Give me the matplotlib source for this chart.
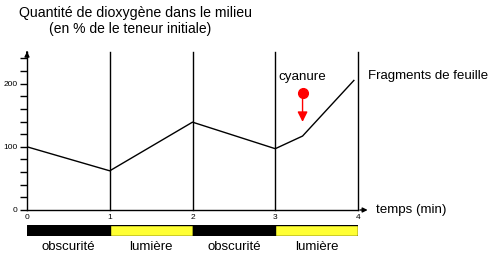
import matplotlib.pyplot as plt

plt.rcParams['font.family'] = ['Liberation Sans', 'DejaVu Sans']

# measured O2 level (% of initial) vs time (min)
times = [0, 1, 2, 3, 3.33, 3.95]
o2 = [100, 62, 139, 97, 117, 205]

phase_start = [0, 1, 2, 3]
phase_names = ['obscurité', 'lumière', 'obscurité', 'lumière']
phase_colors = ['black', '#ffff33', 'black', '#ffff33']

cyanure_t = 3.33
cyanure_from = 185
cyanure_to = 135

fig = plt.figure(figsize=(4.92, 2.57), dpi=100)
ax = fig.add_axes([27 / 492, 47 / 257, 331 / 492, 158 / 257])

ax.plot(times, o2, color='black', lw=1)
for t in [1, 2, 3, 4]:
    ax.plot([t, t], [0, 250], color='black', lw=1, clip_on=False)

ax.set_xlim(0, 4)
ax.set_ylim(0, 250)
for s in ['top', 'right']:
    ax.spines[s].set_visible(False)
ax.spines['left'].set_linewidth(1)
ax.spines['bottom'].set_linewidth(1)

# axis arrows
ax.annotate('', xy=(0, 255), xytext=(0, 245), annotation_clip=False,
            arrowprops=dict(arrowstyle='-|>', color='black', lw=1, mutation_scale=7))
ax.annotate('', xy=(4.15, 0), xytext=(3.99, 0), annotation_clip=False,
            arrowprops=dict(arrowstyle='-|>', color='black', lw=1, mutation_scale=7))

ax.set_yticks([0, 100, 200])
ax.set_yticks(range(0, 241, 20), minor=True)
ax.tick_params(axis='y', which='both', length=5, width=1, labelsize=6, pad=2)
ax.set_xticks([0, 1, 2, 3, 4])
ax.tick_params(axis='x', length=0, labelsize=6, pad=3)

ax.text(4.22, 0, 'temps (min)', fontsize=9.6, va='center', ha='left')
ax.text(4.12, 212, 'Fragments de feuille', fontsize=9.5, va='center', ha='left')
fig.text(0.275, 0.95, 'Quantité de dioxygène dans le milieu', fontsize=10.2, ha='center', va='center')
fig.text(0.265, 0.888, '(en % de le teneur initiale)', fontsize=10, ha='center', va='center')

# cyanure injection
ax.plot([cyanure_t], [cyanure_from], 'o', color='red', ms=7, clip_on=False)
ax.annotate('', xy=(cyanure_t, cyanure_to), xytext=(cyanure_t, cyanure_from),
            arrowprops=dict(arrowstyle='-|>', color='red', lw=1, mutation_scale=15))
ax.text(cyanure_t, 210, 'cyanure', fontsize=9.6, ha='center', va='center')

# light / dark bar
bx = fig.add_axes([27 / 492, 21 / 257, 331 / 492, 11 / 257])
bx.barh([0] * 4, [1] * 4, left=phase_start, color=phase_colors, edgecolor='black', lw=1, height=1)
bx.set_xlim(0, 4)
bx.set_ylim(-0.5, 0.5)
bx.axis('off')
for s, name in zip(phase_start, phase_names):
    bx.text(s + 0.5, -1.5, name, fontsize=9.5, ha='center', va='center')

fig.savefig('out.png', dpi=100)
